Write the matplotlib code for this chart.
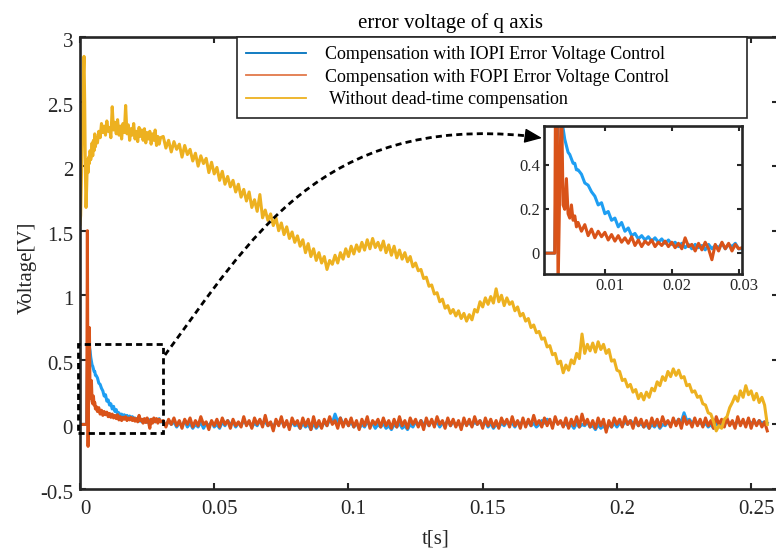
import numpy as np
import matplotlib
matplotlib.use('Agg')
import matplotlib.pyplot as plt
from matplotlib.lines import Line2D
from matplotlib.patches import Rectangle, PathPatch
from matplotlib.path import Path
from matplotlib.transforms import ScaledTranslation

plt.rcParams['font.family'] = ['Liberation Serif', 'DejaVu Serif']

# ---------------- data ----------------
# three sampling segments: 0-6 ms (0.25 ms), 6.5-30 ms (0.5 ms), 31-256 ms (1 ms)
seg_a_start, seg_a_step = 0.0, 0.00025
seg_b_start, seg_b_step = 0.0065, 0.0005
seg_c_start, seg_c_step = 0.031, 0.001

yellow_a = [1.55, 1.62, 1.90, 2.20, 2.50, 2.70, 2.85, 2.50, 1.95, 1.68, 1.85, 2.05, 1.95,
            2.07, 2.02, 2.12, 2.05, 2.10, 2.18, 2.08, 2.20, 2.12, 2.25, 2.15, 2.22]
yellow_b = [2.18, 2.27, 2.22, 2.33, 2.26, 2.31, 2.24, 2.35, 2.27, 2.30, 2.22, 2.46,
            2.28, 2.34, 2.25, 2.36, 2.24, 2.31, 2.21, 2.33, 2.26, 2.47, 2.25, 2.32,
            2.20, 2.29, 2.24, 2.33, 2.21, 2.27, 2.19, 2.30, 2.23, 2.28, 2.20, 2.29,
            2.18, 2.26, 2.21, 2.27, 2.17, 2.25, 2.20, 2.28, 2.16, 2.23, 2.17, 2.22]
yellow_c = [2.23, 2.14, 2.20, 2.11, 2.19, 2.13, 2.17, 2.07, 2.16, 2.09,
            2.13, 2.04, 2.10, 2.00, 2.08, 2.02, 2.06, 1.95, 2.03, 1.94,
            1.99, 1.89, 1.96, 1.86, 1.92, 1.84, 1.89, 1.80, 1.86, 1.76,
            1.82, 1.73, 1.80, 1.68, 1.74, 1.65, 1.78, 1.60, 1.66, 1.58,
            1.63, 1.54, 1.60, 1.50, 1.56, 1.47, 1.53, 1.44, 1.49, 1.41,
            1.46, 1.38, 1.43, 1.33, 1.40, 1.30, 1.36, 1.27, 1.33, 1.25,
            1.30, 1.20, 1.27, 1.24, 1.31, 1.25, 1.33, 1.28, 1.36, 1.30,
            1.38, 1.32, 1.39, 1.34, 1.41, 1.35, 1.43, 1.36, 1.44, 1.37,
            1.41, 1.35, 1.42, 1.33, 1.39, 1.31, 1.38, 1.29, 1.35, 1.28,
            1.33, 1.26, 1.30, 1.22, 1.25, 1.19, 1.20, 1.13, 1.14, 1.07,
            1.08, 1.01, 1.02, 0.95, 0.97, 0.90, 0.92, 0.86, 0.89, 0.84,
            0.88, 0.82, 0.86, 0.80, 0.85, 0.81, 0.89, 0.87, 0.95, 0.91,
            0.98, 0.93, 0.99, 0.94, 1.05, 0.95, 1.00, 0.92, 0.98, 0.93,
            0.95, 0.88, 0.91, 0.84, 0.86, 0.80, 0.82, 0.75, 0.77, 0.71,
            0.72, 0.66, 0.67, 0.60, 0.61, 0.54, 0.55, 0.47, 0.49, 0.40,
            0.46, 0.42, 0.50, 0.47, 0.55, 0.51, 0.70, 0.55, 0.62, 0.57,
            0.63, 0.56, 0.64, 0.58, 0.62, 0.55, 0.58, 0.49, 0.50, 0.42,
            0.41, 0.34, 0.35, 0.29, 0.31, 0.25, 0.27, 0.20, 0.24, 0.19,
            0.25, 0.21, 0.28, 0.26, 0.33, 0.30, 0.37, 0.34, 0.41, 0.37,
            0.43, 0.38, 0.42, 0.36, 0.37, 0.30, 0.31, 0.25, 0.26, 0.21,
            0.22, 0.16, 0.15, 0.09, 0.08, 0.02, -0.05, -0.01, -0.03, 0.04,
            0.06, 0.13, 0.17, 0.22, 0.18, 0.26, 0.21, 0.30, 0.23, 0.26,
            0.19, 0.24, 0.17, 0.21, 0.15, 0.00]

blue_a = [0, 0, 0, 0, 0, 0, 0, 0, 0, 0, 0,
          0.45, 0.60, 0.62, 0.60, 0.57, 0.52, 0.49, 0.46, 0.45, 0.43, 0.41, 0.41, 0.38, 0.38]
blue_b = [0.36, 0.32, 0.31, 0.28, 0.26, 0.22, 0.23, 0.18, 0.19, 0.15, 0.16, 0.12,
          0.14, 0.10, 0.115, 0.08, 0.09, 0.065, 0.08, 0.06, 0.075, 0.055, 0.07, 0.05,
          0.065, 0.045, 0.06, 0.04, 0.05, 0.03, 0.045, 0.025, 0.04, 0.02, 0.04, 0.025,
          0.035, 0.015, 0.04, 0.02, 0.035, 0.025, 0.045, 0.02, 0.04, 0.03, 0.045, 0.02]
blue_c = [0.02, -0.01, 0.03, 0.00, 0.02, -0.02, 0.01, -0.01, 0.03, -0.02,
          0.01, -0.03, 0.00, -0.02, 0.02, -0.03, 0.01, -0.01, 0.02, -0.02,
          0.00, -0.03, 0.02, -0.01, 0.03, 0.00, 0.02, -0.02, 0.01, -0.01,
          0.03, 0.00, 0.02, -0.02, 0.01, -0.01, 0.03, 0.01, 0.02, -0.01,
          0.01, -0.02, 0.02, 0.00, 0.03, -0.01, 0.01, -0.02, 0.02, -0.01,
          0.00, -0.03, 0.01, -0.02, 0.00, -0.04, 0.01, -0.03, 0.00, -0.02,
          0.02, -0.01, 0.04, 0.01, 0.08, 0.02, 0.05, 0.00, 0.03, -0.01,
          0.02, -0.02, 0.01, -0.03, 0.00, -0.02, 0.02, -0.01, 0.01, -0.03,
          0.00, -0.02, 0.01, -0.03, -0.01, -0.04, 0.00, -0.02, 0.01, -0.03,
          -0.01, -0.04, 0.00, -0.02, 0.02, -0.01, 0.03, 0.00, 0.02, -0.01,
          0.03, 0.00, 0.02, -0.02, 0.01, 0.00, 0.03, -0.01, 0.02, 0.00,
          0.01, -0.02, 0.02, 0.00, 0.01, -0.01, 0.02, 0.00, 0.03, -0.01,
          0.02, -0.02, 0.01, -0.03, 0.00, -0.02, 0.01, -0.01, 0.02, 0.00,
          0.01, -0.02, 0.02, 0.00, 0.03, 0.00, 0.02, -0.01, 0.01, -0.02,
          0.00, 0.03, 0.01, 0.04, 0.02, 0.00, 0.03, 0.01, 0.02, -0.01,
          0.01, -0.02, 0.00, -0.03, 0.01, -0.02, 0.00, -0.01, 0.02, -0.02,
          -0.01, -0.04, 0.00, -0.03, -0.01, -0.04, 0.00, -0.02, 0.01, -0.02,
          0.01, -0.01, 0.02, 0.00, 0.03, 0.01, 0.02, -0.01, 0.01, -0.02,
          0.00, -0.03, 0.00, -0.02, 0.01, -0.03, 0.00, -0.01, 0.02, 0.00,
          0.03, 0.01, 0.04, 0.02, 0.09, 0.03, 0.04, 0.01, 0.03, 0.00,
          0.02, -0.01, 0.01, -0.02, 0.00, -0.03, 0.01, -0.02, 0.00, 0.01,
          0.03, 0.00, 0.02, -0.01, 0.03, 0.01, 0.02, 0.00, 0.03, 0.01,
          0.02, 0.00, 0.03, 0.01, 0.02, 0.01]

orange_a = [0, 0, 0, 0, 0, 0, 0, 0, 0, 0, 0,
            1.50, -0.17, 0.30, 0.75, 0.22, 0.20, 0.34, 0.18, 0.16, 0.22, 0.15, 0.17, 0.12, 0.14]
orange_b = [0.10, 0.13, 0.08, 0.11, 0.07, 0.10, 0.075, 0.095, 0.06, 0.085, 0.055, 0.08,
            0.05, 0.07, 0.045, 0.075, 0.035, 0.06, 0.03, 0.055, 0.04, 0.06, 0.03, 0.05,
            0.035, 0.055, 0.03, 0.05, 0.025, 0.045, 0.02, 0.07, 0.03, 0.04, 0.01, 0.045,
            0.015, 0.05, 0.02, -0.03, 0.04, 0.01, 0.05, 0.02, 0.045, 0.01, 0.04, 0.02]
orange_c = [0.03, -0.02, 0.04, 0.00, 0.05, -0.01, 0.03, -0.03, 0.04, 0.00,
            0.05, -0.02, 0.03, -0.01, 0.06, 0.00, 0.02, -0.04, 0.03, -0.01,
            0.04, -0.02, 0.05, 0.00, 0.03, -0.03, 0.04, -0.01, 0.02, -0.02,
            0.06, -0.01, 0.03, -0.03, 0.05, 0.00, 0.04, -0.02, 0.07, -0.01,
            0.02, -0.05, 0.04, -0.01, 0.06, -0.02, 0.03, -0.04, 0.05, 0.00,
            0.03, -0.03, 0.05, -0.01, 0.04, -0.04, 0.06, -0.02, 0.03, -0.03,
            0.04, -0.01, 0.06, 0.00, 0.03, -0.03, 0.05, -0.02, 0.04, -0.01,
            0.05, -0.02, 0.03, -0.04, 0.04, -0.01, 0.06, -0.03, 0.03, 0.00,
            0.04, -0.02, 0.05, -0.01, 0.03, -0.03, 0.04, -0.02, 0.06, -0.01,
            0.03, -0.03, 0.05, 0.00, 0.04, -0.02, 0.03, -0.04, 0.05, -0.01,
            0.04, -0.02, 0.06, 0.00, 0.03, -0.03, 0.05, -0.01, 0.04, -0.02,
            0.03, -0.04, 0.05, -0.01, 0.04, -0.02, 0.06, 0.00, 0.03, -0.03,
            0.05, -0.01, 0.04, -0.02, 0.03, -0.03, 0.05, 0.00, 0.04, -0.02,
            0.06, -0.01, 0.03, -0.03, 0.05, -0.02, 0.04, -0.01, 0.07, 0.00,
            0.03, -0.02, 0.05, -0.01, 0.04, -0.03, 0.06, 0.00, 0.03, -0.02,
            0.05, -0.03, 0.04, -0.01, 0.06, -0.02, 0.08, 0.00, 0.04, -0.02,
            0.03, -0.03, 0.05, -0.01, 0.04, -0.06, 0.03, -0.02, 0.05, 0.00,
            0.04, -0.02, 0.06, 0.00, 0.03, -0.03, 0.05, -0.01, 0.04, -0.02,
            0.03, -0.03, 0.05, -0.01, 0.04, -0.02, 0.06, 0.00, 0.03, -0.02,
            0.05, -0.01, 0.04, -0.03, 0.06, 0.00, 0.03, -0.02, 0.05, -0.01,
            0.04, -0.02, 0.05, -0.01, 0.03, -0.03, 0.06, 0.00, 0.04, -0.02,
            0.05, -0.01, 0.03, -0.03, 0.06, -0.01, 0.04, -0.02, 0.05, -0.03,
            0.04, -0.01, 0.03, -0.02, 0.02, -0.05]

labels = ['Compensation with IOPI Error Voltage Control',
          'Compensation with FOPI Error Voltage Control',
          ' Without dead-time compensation']
title_text = 'error voltage of q axis'
xlabel_text = 't[s]'
ylabel_text = 'Voltage[V]'

xticks = [0, 0.05, 0.1, 0.15, 0.2, 0.25]
xtick_labels = ['0', '0.05', '0.1', '0.15', '0.2', '0.25']
yticks = [-0.5, 0, 0.5, 1, 1.5, 2, 2.5, 3]
ytick_labels = ['-0.5', '0', '0.5', '1', '1.5', '2', '2.5', '3']
in_xticks = [0.01, 0.02, 0.03]
in_xtick_labels = ['0.01', '0.02', '0.03']
in_yticks = [0, 0.2, 0.4]
in_ytick_labels = ['0', '0.2', '0.4']

zoom_box = (-0.0009, -0.067, 0.031, 0.625)   # t0, v0, t1, v1

# ---------------- helpers ----------------
def build_time(a, b, c):
    ta = seg_a_start + seg_a_step * np.arange(len(a))
    tb = seg_b_start + seg_b_step * np.arange(len(b))
    tc = seg_c_start + seg_c_step * np.arange(len(c))
    return np.concatenate([ta, tb, tc]), np.concatenate([a, b, c])

t_y, v_y = build_time(yellow_a, yellow_b, yellow_c)
t_b, v_b = build_time(blue_a, blue_b, blue_c)
t_o, v_o = build_time(orange_a, orange_b, orange_c)

BLUE = '#1E9EF2'
ORANGE = '#D95319'
YELLOW = '#EDB120'
DARK = '#262626'
LW = 2.2

W, H = 776, 551
fig = plt.figure(figsize=(W / 100, H / 100), dpi=100)

def px(x, y):
    return (x / W, 1 - y / H)

ax = fig.add_axes([80 / W, 1 - 489 / H, 698 / W, 452 / H])
ax.plot(t_b, v_b, color=BLUE, lw=LW)
ax.plot(t_o, v_o, color=ORANGE, lw=LW)
ax.plot(t_y, v_y, color=YELLOW, lw=LW)
ax.set_xlim(0, 0.26)
ax.set_ylim(-0.5, 3)
ax.set_xticks(xticks)
ax.set_xticklabels(xtick_labels)
ax.set_yticks(yticks)
ax.set_yticklabels(ytick_labels)
ax.tick_params(direction='in', length=4.5, width=1.5, top=True, right=True,
               labelsize=15, color=DARK, labelcolor=DARK)
ax.tick_params(axis='x', pad=8)
ax.tick_params(axis='y', pad=5)
for s in ax.spines.values():
    s.set_linewidth(1.9)
    s.set_color(DARK)
shift = ScaledTranslation(5 / 100, 0, fig.dpi_scale_trans)
for lab in ax.get_xticklabels():
    lab.set_transform(lab.get_transform() + shift)
yshift = ScaledTranslation(0, -3 / 100, fig.dpi_scale_trans)
for lab in ax.get_yticklabels():
    lab.set_transform(lab.get_transform() + yshift)

handles = [Line2D([], [], color='#0072BD', lw=1.3),
           Line2D([], [], color='#E2784A', lw=1.3),
           Line2D([], [], color=YELLOW, lw=1.3)]
leg = ax.legend(handles, labels, loc='upper left',
                bbox_to_anchor=(157 / 698, 0, 510 / 698, 1), mode='expand',
                borderaxespad=0, fontsize=13, frameon=True, fancybox=False,
                framealpha=1, edgecolor=DARK, handlelength=3.3,
                handletextpad=1.05, borderpad=0.52, labelspacing=0.3)
leg.get_frame().set_linewidth(1.2)

# zoom box
dash = (0, (2.2, 1.5))
t0, v0, t1, v1 = zoom_box
ax.add_patch(Rectangle((t0, v0), t1 - t0, v1 - v0, fill=False, ec='black',
                       lw=2.0, ls=dash, clip_on=False, zorder=6))

# connector curve
verts = [px(165, 355), px(250, 240), px(320, 115), px(528, 136)]
codes = [Path.MOVETO, Path.CURVE4, Path.CURVE4, Path.CURVE4]
fig.add_artist(PathPatch(Path(verts, codes), transform=fig.transFigure,
                         fill=False, ec='black', lw=2.0, ls=dash, zorder=6))
ax.annotate('', xy=px(542, 138), xycoords='figure fraction',
            xytext=px(527, 136), textcoords='figure fraction',
            arrowprops=dict(arrowstyle='-|>,head_length=0.6,head_width=0.25',
                            color='black', lw=1, mutation_scale=18,
                            shrinkA=0, shrinkB=0))

# inset
axin = fig.add_axes([544 / W, 1 - 274 / H, 198 / W, 148 / H])
axin.plot(t_b, v_b, color=BLUE, lw=LW)
axin.plot(t_o, v_o, color=ORANGE, lw=LW)
axin.set_xlim(0.0009, 0.0305)
axin.set_ylim(-0.095, 0.58)
axin.set_xticks(in_xticks)
axin.set_xticklabels(in_xtick_labels)
axin.set_yticks(in_yticks)
axin.set_yticklabels(in_ytick_labels)
axin.tick_params(direction='in', length=3.5, width=1.5, top=True, right=True,
                 labelsize=12, color=DARK, labelcolor=DARK, pad=3)
for s in axin.spines.values():
    s.set_linewidth(1.9)
    s.set_color(DARK)
for lab in axin.get_xticklabels():
    lab.set_transform(lab.get_transform() + shift)

fig.text(450 / W, 1 - 28 / H, title_text, ha='center', va='baseline',
         fontsize=15, color='black')
fig.text(436 / W, 1 - 539 / H, xlabel_text, ha='center', va='center',
         fontsize=15, color=DARK)
fig.text(27 / W, 1 - 268 / H, ylabel_text, ha='center', va='center',
         rotation=90, fontsize=15, color=DARK)

fig.savefig('out.png', dpi=100)
